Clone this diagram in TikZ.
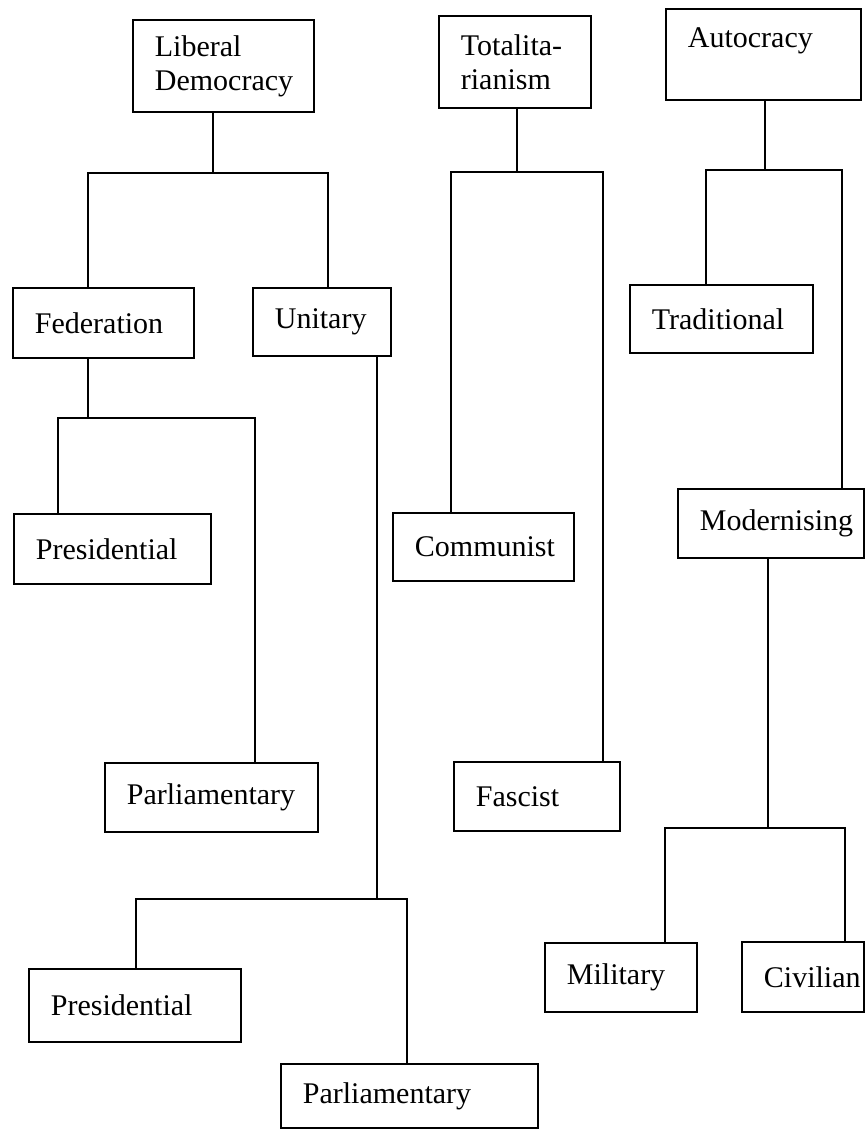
\documentclass[tikz,border=0pt]{standalone}
\usepackage{fontspec}
\setmainfont{Liberation Serif}

\begin{document}
\begin{tikzpicture}[
  x=1pt, y=-1pt,
  font=\fontsize{30}{34}\selectfont,
  box/.style={draw, line width=1.8pt, anchor=north west, align=left, inner xsep=22pt, inner ysep=0pt},
  ln/.style={line width=1.8pt},
]
\useasboundingbox (0,0) rectangle (865,1130);
% top level
\node[box, text width=137pt, minimum height=92pt] (lib) at (132,19) {Liberal\\Democracy};
\node[box, text width=108pt, minimum height=92pt] (tot) at (438,15) {Totalita-\\rianism};
\node[box, text width=151pt, minimum height=91pt] (aut) at (665,8) {Autocracy\\~};
% second level
\node[box, text width=137pt, minimum height=70pt] (fed) at (12,287) {Federation};
\node[box, text width=94pt, minimum height=68pt] (uni) at (252,287) {Unitary};
\node[box, text width=139pt, minimum height=68pt] (tra) at (629,284) {Traditional};
\node[box, text width=153pt, minimum height=70pt] (pre1) at (13,513) {Presidential};
\node[box, text width=137pt, minimum height=68pt] (com) at (392,512) {Communist};
\node[box, text width=142pt, minimum height=69pt] (mod) at (677,488) {Modernising};
\node[box, text width=169pt, minimum height=69pt] (par1) at (104,762) {Parliamentary};
\node[box, text width=122pt, minimum height=69pt] (fas) at (453,761) {Fascist};
% bottom
\node[box, text width=108pt, minimum height=69pt] (mil) at (544,942) {Military};
\node[box, text width=78pt, minimum height=70pt] (civ) at (741,941) {Civilian};
\node[box, text width=168pt, minimum height=73pt] (pre2) at (28,968) {Presidential};
\node[box, text width=213pt, minimum height=64pt] (par2) at (280,1063) {Parliamentary};

% branch points
\coordinate (lib-j) at (213,173); \coordinate (lib-l) at (88,173); \coordinate (lib-r) at (328,173);
\coordinate (fed-j) at (88,418); \coordinate (fed-l) at (58,418); \coordinate (fed-r) at (255,418);
\coordinate (uni-j) at (377,899); \coordinate (uni-l) at (136,899); \coordinate (uni-r) at (407,899);
\coordinate (tot-j) at (517,172); \coordinate (tot-l) at (451,172); \coordinate (tot-r) at (603,172);
\coordinate (aut-j) at (765,170); \coordinate (aut-l) at (706,170); \coordinate (aut-r) at (842,170);
\coordinate (mod-j) at (768,828); \coordinate (mod-l) at (665,828); \coordinate (mod-r) at (845,828);

\foreach \p/\a/\b in {lib/fed/uni, fed/pre1/par1, uni/pre2/par2, tot/com/fas, aut/tra/mod, mod/mil/civ} {
  \draw[ln] (\p.south -| \p-j) -- (\p-j);
  \draw[ln] (\a.north -| \p-l) -- (\p-l) -- (\p-r) -- (\b.north -| \p-r);
}
\end{tikzpicture}
\end{document}
